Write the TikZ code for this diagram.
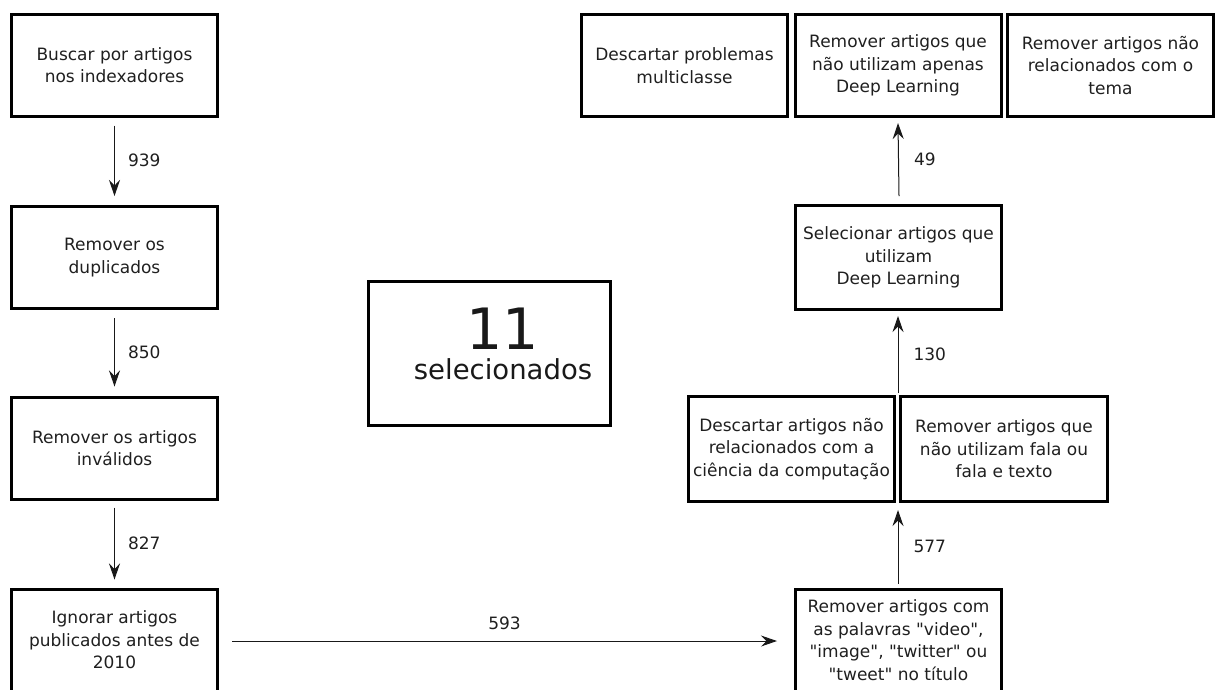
\documentclass[tikz,border=0pt]{standalone}
\usepackage{fontspec}
\setmainfont{DejaVu Sans}
% a family without the TeX ligature mapping, so that " stays a straight quote
\newfontfamily\plainquote{DejaVu Sans}
\usetikzlibrary{arrows.meta}
\newcommand\dq{{\plainquote"}}
\begin{document}
\begin{tikzpicture}[x=1pt,y=-1pt,
  box/.style={draw=black, line width=3pt, minimum width=206pt, minimum height=102pt,
    inner sep=0pt, align=center, font=\fontsize{17}{22.5}\selectfont, text=black!88},
  flow/.style={-{Stealth[length=16pt,width=11pt,inset=5.5pt]}, line width=1pt, draw=black!90},
  num/.style={font=\fontsize{17}{22}\selectfont, text=black!88, inner sep=3pt},
  big/.style={text=black!90, inner sep=0pt}]
\useasboundingbox (0,0) rectangle (1217,689);

% left column
\node[box] (busca) at (114.5,65) {Buscar por artigos\\nos indexadores};
\node[box] (dup)   at (114.5,257.5) {Remover os\\duplicados};
\node[box] (inval) at (114.5,448) {Remover os artigos\\inválidos};
\node[box] (ano)   at (114.5,640) {Ignorar artigos\\publicados antes de\\2010};

% right column, bottom to top
\node[box] (pal) at (898.5,640) {Remover artigos com\\as palavras \dq video\dq,\\\dq image\dq, \dq twitter\dq{} ou\\\dq tweet\dq{} no título};
\node[box, minimum width=206pt, minimum height=105pt] (comp) at (791.5,449)
  {Descartar artigos não\\relacionados com a\\ciência da computação};
\node[box, minimum width=207pt, minimum height=105pt] (fala) at (1004,449)
  {Remover artigos que\\não utilizam fala ou\\fala e texto};
\coordinate (par) at (898,504);
\coordinate (parTop) at (898,393);
\node[box, minimum height=104pt] (dl) at (898.5,257.5) {Selecionar artigos que\\utilizam\\Deep Learning};
\node[box] (multi) at (684.5,65.5) {Descartar problemas\\multiclasse};
\node[box] (apenas) at (898,65.5) {Remover artigos que\\não utilizam apenas\\Deep Learning};
\node[box] (tema) at (1110.5,65.5) {Remover artigos não\\relacionados com o\\tema};

% result
\node[box, minimum width=242pt, minimum height=144pt] (res) at (489.5,353.5) {};
\node[big, anchor=base, font=\fontsize{57}{57}\selectfont] (n11) at (503,349) {11};
\node[big, anchor=base, font=\fontsize{27.5}{27.5}\selectfont] (nsel) at (503,379) {selecionados};

% connectors
\draw[flow] ([yshift=-8pt]busca.south) -- node[num, midway, right=10pt] {939} ([yshift=9pt]dup.north);
\draw[flow] ([yshift=-8pt]dup.south) -- node[num, midway, right=10pt] {850} ([yshift=9pt]inval.north);
\draw[flow] ([yshift=-7pt]inval.south) -- node[num, midway, right=10pt] {827} ([yshift=8pt]ano.north);
\draw[flow] ([xshift=13pt,yshift=-1pt]ano.east) -- node[num, midway, above=8pt] {593} ([xshift=-17pt,yshift=-1pt]pal.west);
\draw[flow] ([xshift=-0.5pt,yshift=4pt]pal.north) -- node[num, midway, right=12pt] {577} ([yshift=-6pt]par);
\draw[flow] (parTop) -- node[num, midway, right=12pt] {130} ([xshift=-0.5pt,yshift=-5pt]dl.south);
\draw[flow] ([xshift=0.5pt,yshift=8pt]dl.north) -- node[num, midway, right=12pt] {49} ([yshift=-5pt]apenas.south);
\end{tikzpicture}
\end{document}
